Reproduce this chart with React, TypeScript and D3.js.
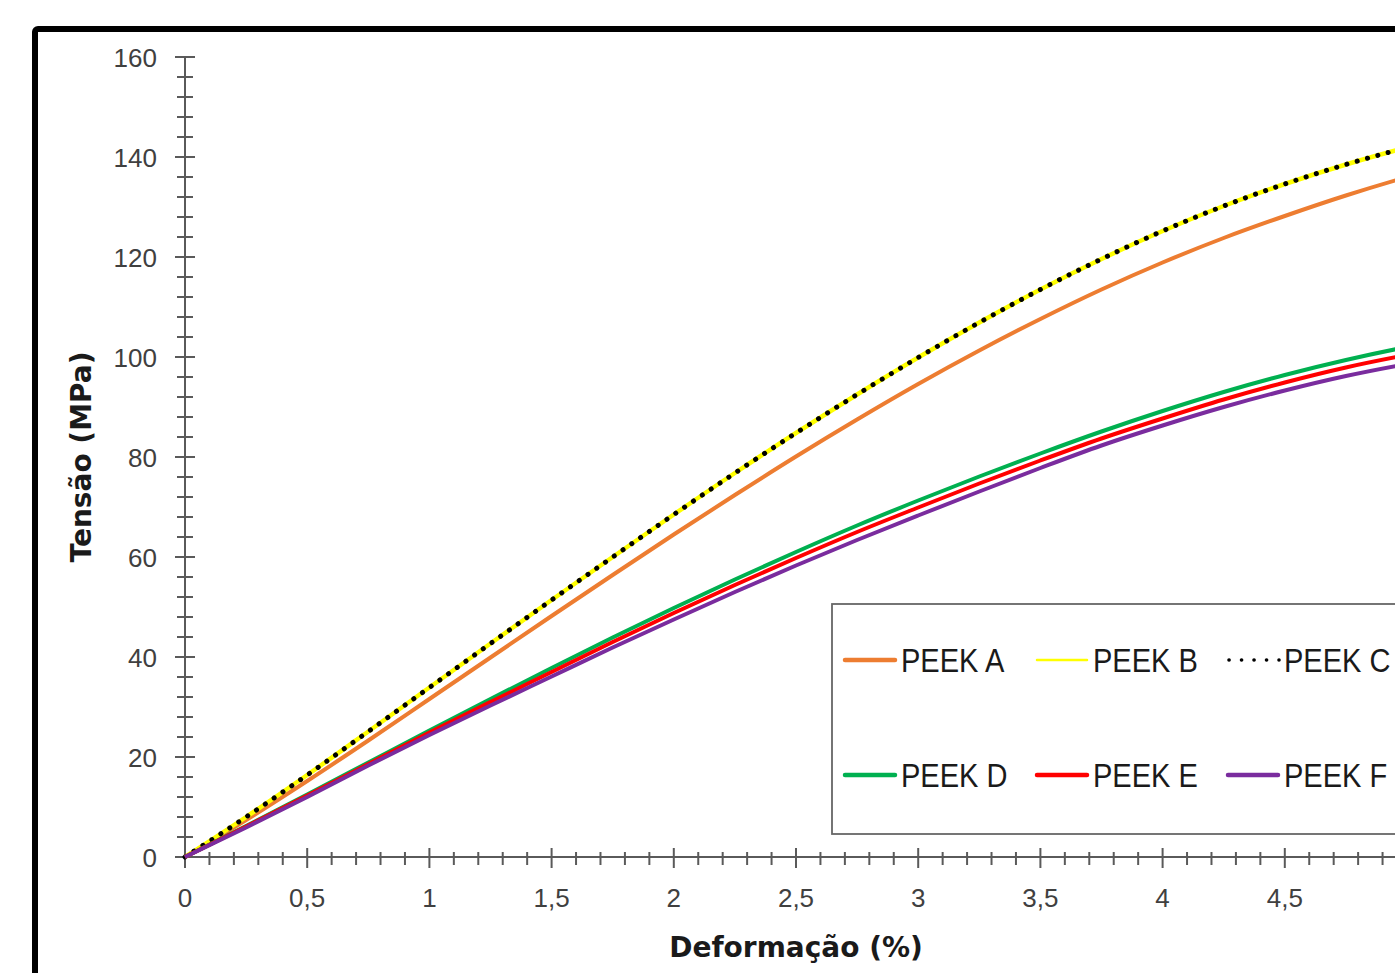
import React from "react";
import * as d3 from "d3";

const strainPts = [0, 0.25, 0.5, 0.75, 1, 1.25, 1.5, 1.75, 2, 2.25, 2.5, 2.75, 3, 3.25, 3.5, 3.75, 4, 4.25, 4.5, 4.75, 5, 5.25];

const peekA = [0, 7.4, 15.2, 23.3, 31.6, 39.9, 48.2, 56.4, 64.5, 72.4, 80.1, 87.5, 94.6, 101.3, 107.6, 113.5, 118.9, 123.8, 128.2, 132.3, 136.0, 139.3];
const peekB = [0, 8.0, 16.4, 25.1, 33.9, 42.7, 51.4, 60.0, 68.5, 76.8, 84.8, 92.5, 99.9, 106.9, 113.5, 119.6, 125.2, 130.2, 134.6, 138.5, 141.9, 144.9];
const peekC = [0, 8.0, 16.4, 25.1, 33.9, 42.7, 51.4, 60.0, 68.5, 76.8, 84.8, 92.5, 99.9, 106.9, 113.5, 119.6, 125.2, 130.2, 134.6, 138.5, 141.9, 144.9];
const peekD = [0, 6.2, 12.5, 18.9, 25.3, 31.6, 37.8, 43.9, 49.8, 55.5, 61.0, 66.3, 71.3, 76.1, 80.7, 85.1, 89.2, 93.0, 96.4, 99.4, 102.0, 104.2];
const peekE = [0, 6.1, 12.3, 18.6, 24.9, 31.0, 37.0, 43.0, 48.8, 54.4, 59.8, 65.0, 69.9, 74.7, 79.3, 83.7, 87.7, 91.5, 94.9, 97.9, 100.4, 102.6];
const peekF = [0, 5.9, 12.0, 18.3, 24.4, 30.3, 36.1, 41.9, 47.5, 53.0, 58.3, 63.4, 68.3, 73.1, 77.8, 82.3, 86.3, 90.0, 93.3, 96.2, 98.6, 100.6];

const seriesNames = ["PEEK A", "PEEK B", "PEEK C", "PEEK D", "PEEK E", "PEEK F"];
const seriesValues = [peekA, peekB, peekC, peekD, peekE, peekF];
const seriesColors = ["#ED7D31", "#FFFF00", "#000000", "#00B050", "#FF0000", "#7A2C9E"];

const xTickValues = [0, 0.5, 1, 1.5, 2, 2.5, 3, 3.5, 4, 4.5];
const yTickValues = [0, 20, 40, 60, 80, 100, 120, 140, 160];
const xTitle = "Deformação (%)";
const yTitle = "Tensão (MPa)";

export default function App() {
  const x = d3.scaleLinear().domain([0, 5]).range([185, 185 + 5 * 244.4]);
  const y = d3.scaleLinear().domain([0, 160]).range([857, 57]);

  const line = d3
    .line<number>()
    .x((_, i) => x(strainPts[i]))
    .y((v) => y(v))
    .curve(d3.curveMonotoneX);

  const xMinor = d3.range(0, 5.35, 0.1).map((v) => Math.round(v * 10) / 10);
  const yMinor = d3.range(0, 161, 4);
  const axisColor = "#5a5a5a";
  const labelColor = "#404040";
  const fmt = (v: number) => String(v).replace(".", ",");

  const styleFor = (i: number) => {
    if (i === 1) return { stroke: seriesColors[i], strokeWidth: 4.5 };
    if (i === 2)
      return { stroke: seriesColors[i], strokeWidth: 5, strokeDasharray: "0.1 10.6", strokeLinecap: "round" as const };
    return { stroke: seriesColors[i], strokeWidth: 4 };
  };

  const legendCols = [845, 1037, 1228];
  const legendRows = [660, 775];

  return (
    <svg
      width={1395}
      height={973}
      style={{ position: "absolute", left: 0, top: 0, background: "#fff" }}
    >
      <rect x={0} y={0} width={1395} height={973} fill="#fff" />
      <rect x={35} y={29} width={1500} height={1100} rx={3} fill="none" stroke="#000" strokeWidth={6} />

      {/* y axis */}
      <line x1={x(0)} x2={x(0)} y1={y(0)} y2={y(160)} stroke={axisColor} strokeWidth={2} />
      {yMinor.map((v) => {
        const major = v % 20 === 0;
        return (
          <line
            key={"ym" + v}
            x1={x(0) - (major ? 10 : 8)}
            x2={x(0) + (major ? 10 : 8)}
            y1={y(v)}
            y2={y(v)}
            stroke={axisColor}
            strokeWidth={2}
          />
        );
      })}
      {yTickValues.map((v) => (
        <text
          key={"yl" + v}
          x={157}
          y={y(v) + 9.5}
          textAnchor="end"
          fontFamily="Liberation Sans, Arial, sans-serif"
          fontSize={26}
          fill={labelColor}
        >
          {v}
        </text>
      ))}

      {/* x axis */}
      <line x1={x(0)} x2={1400} y1={y(0)} y2={y(0)} stroke={axisColor} strokeWidth={2} />
      {xMinor.map((v) => {
        const major = Math.abs(v * 2 - Math.round(v * 2)) < 1e-6;
        return (
          <line
            key={"xm" + v}
            x1={x(v)}
            x2={x(v)}
            y1={y(0) - (major ? 9 : 5)}
            y2={y(0) + (major ? 11 : 8)}
            stroke={axisColor}
            strokeWidth={2}
          />
        );
      })}
      {xTickValues.map((v) => (
        <text
          key={"xl" + v}
          x={x(v)}
          y={907}
          textAnchor="middle"
          fontFamily="Liberation Sans, Arial, sans-serif"
          fontSize={26}
          fill={labelColor}
        >
          {fmt(v)}
        </text>
      ))}

      {/* titles */}
      <text
        x={x(2.5)}
        y={957}
        textAnchor="middle"
        fontFamily="DejaVu Sans, sans-serif"
        fontWeight="bold"
        fontSize={28}
        fill="#1a1a1a"
      >
        {xTitle}
      </text>
      <text
        transform={`translate(91, ${y(80)}) rotate(-90)`}
        textAnchor="middle"
        fontFamily="DejaVu Sans, sans-serif"
        fontWeight="bold"
        fontSize={28}
        fill="#1a1a1a"
      >
        {yTitle}
      </text>

      {/* series */}
      {seriesValues.map((vals, i) => (
        <path key={"s" + i} d={line(vals) || ""} fill="none" {...styleFor(i)} />
      ))}

      {/* legend */}
      <rect x={832} y={604} width={700} height={230} fill="#fff" stroke="#666" strokeWidth={1.8} />
      {seriesNames.map((name, i) => {
        const cx = legendCols[i % 3];
        const cy = legendRows[Math.floor(i / 3)];
        const st = styleFor(i);
        return (
          <g key={"lg" + i}>
            {i === 2 ? (
              <line x1={cx + 1} x2={cx + 51} y1={cy} y2={cy} stroke="#000" strokeWidth={3.6} strokeDasharray="0.1 12.4" strokeLinecap="round" />
            ) : (
              <line
                x1={cx}
                x2={cx + 50}
                y1={cy}
                y2={cy}
                stroke={st.stroke}
                strokeWidth={i === 1 ? 2.5 : 4.5}
                strokeLinecap="round"
              />
            )}
            <text
              transform={`translate(${cx + 56}, ${cy + 12}) scale(0.88, 1)`}
              fontFamily="Liberation Sans, Arial, sans-serif"
              fontSize={33}
              fill="#1a1a1a"
            >
              {name}
            </text>
          </g>
        );
      })}
    </svg>
  );
}
